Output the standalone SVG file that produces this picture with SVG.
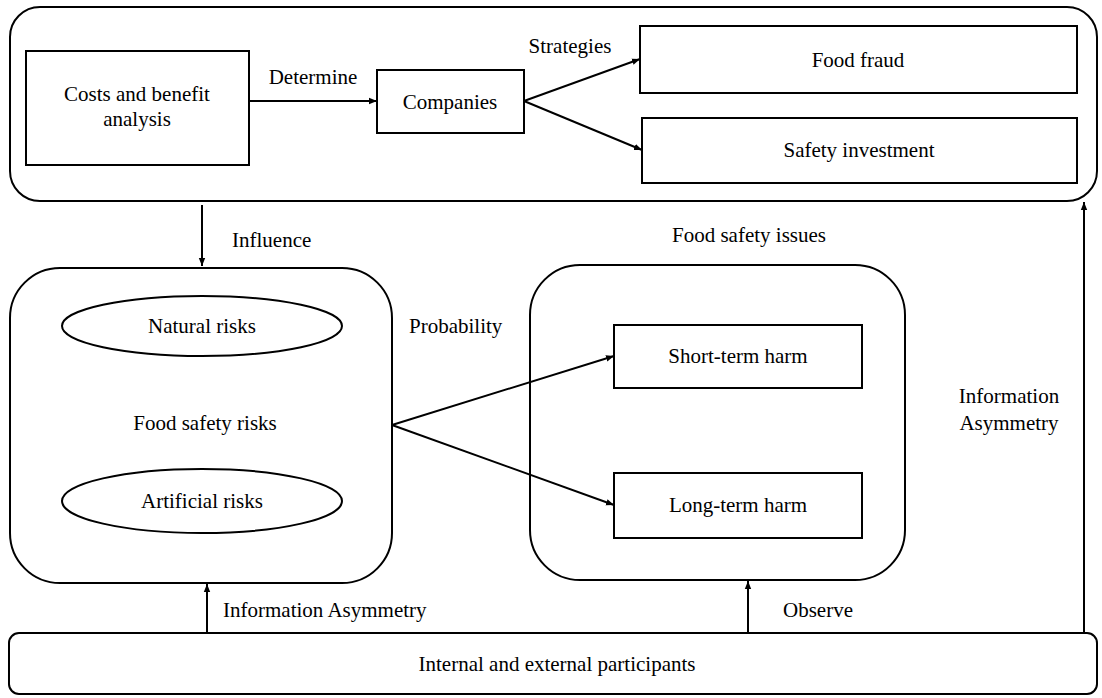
<svg xmlns="http://www.w3.org/2000/svg" width="1102" height="698" viewBox="0 0 1102 698">
<defs>
<marker id="ah" viewBox="0 0 10 10" refX="10" refY="5" markerWidth="8" markerHeight="8" markerUnits="userSpaceOnUse" orient="auto">
<path d="M0,1 L10,5 L0,9 Z" fill="#000"/>
</marker>
<style>
.b{fill:#fff;stroke:#000;stroke-width:2}
.t{font-family:"Liberation Serif","Times New Roman",serif;font-size:21px;fill:#000;text-anchor:middle}
.l{font-family:"Liberation Serif","Times New Roman",serif;font-size:21px;fill:#000}
.c{fill:none;stroke:#000;stroke-width:2;marker-end:url(#ah)}
</style>
</defs>
<rect width="1102" height="698" fill="#fff"/>
<g id="top-container"><rect class="b" x="10" y="7" width="1087" height="194" rx="30"/></g>
<g id="costs"><rect class="b" x="26" y="51" width="223" height="114"/><text class="t" x="137" y="101">Costs and benefit</text><text class="t" x="137" y="126">analysis</text></g>
<g id="companies"><rect class="b" x="377" y="70" width="147" height="63"/><text class="t" x="450" y="109">Companies</text></g>
<g id="food-fraud"><rect class="b" x="640" y="26" width="437" height="67"/><text class="t" x="858" y="67">Food fraud</text></g>
<g id="safety-investment"><rect class="b" x="642" y="118" width="435" height="65"/><text class="t" x="859" y="157">Safety investment</text></g>
<g id="risks"><rect class="b" x="10" y="268" width="382" height="315" rx="50"/>
<ellipse class="b" cx="202" cy="326" rx="140" ry="30"/><text class="t" x="202" y="333">Natural risks</text>
<text class="t" x="205" y="430">Food safety risks</text>
<ellipse class="b" cx="202" cy="501" rx="140" ry="32"/><text class="t" x="202" y="508">Artificial risks</text></g>
<g id="issues"><rect class="b" x="530" y="265" width="375" height="315" rx="50"/></g>
<g id="short-term"><rect class="b" x="614" y="325" width="248" height="63"/><text class="t" x="738" y="363">Short-term harm</text></g>
<g id="long-term"><rect class="b" x="614" y="473" width="248" height="65"/><text class="t" x="738" y="512">Long-term harm</text></g>
<g id="participants"><rect class="b" x="9" y="633" width="1088" height="61" rx="10"/><text class="t" x="557" y="671">Internal and external participants</text></g>
<g id="connectors">
<line class="c" x1="249" y1="101" x2="377" y2="101"/>
<line class="c" x1="524" y1="101" x2="640" y2="59"/>
<line class="c" x1="524" y1="101" x2="642" y2="150"/>
<line class="c" x1="202" y1="205" x2="202" y2="266"/>
<line class="c" x1="392" y1="425" x2="614" y2="356"/>
<line class="c" x1="392" y1="425" x2="614" y2="505"/>
<line class="c" x1="207" y1="633" x2="207" y2="584"/>
<line class="c" x1="748" y1="633" x2="748" y2="581"/>
<line class="c" x1="1084" y1="633" x2="1084" y2="202"/>
</g>
<g id="labels">
<text class="t" x="313" y="84">Determine</text>
<text class="t" x="570" y="53">Strategies</text>
<text class="l" x="232" y="247">Influence</text>
<text class="t" x="749" y="242">Food safety issues</text>
<text class="l" x="409" y="333">Probability</text>
<text class="t" x="1009" y="403">Information</text>
<text class="t" x="1009" y="430">Asymmetry</text>
<text class="l" x="223" y="617">Information Asymmetry</text>
<text class="l" x="783" y="617">Observe</text>
</g>
</svg>
